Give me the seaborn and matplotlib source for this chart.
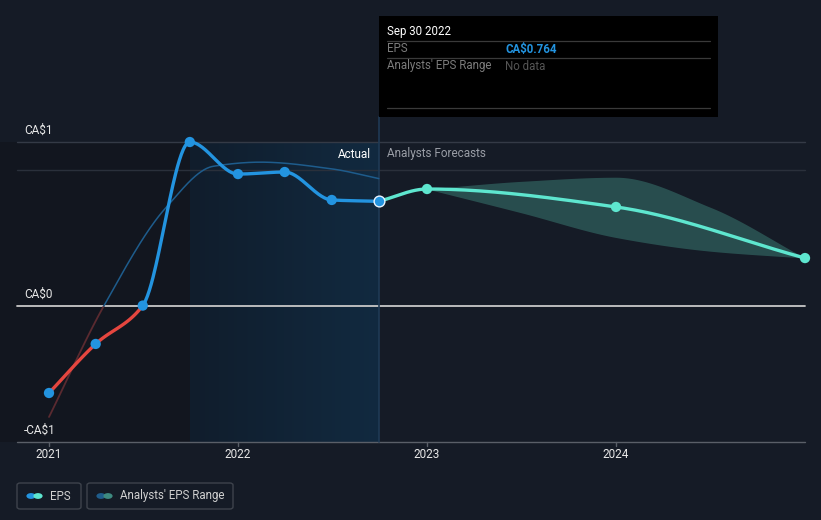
import numpy as np
import pandas as pd
import matplotlib
matplotlib.use("Agg")
import matplotlib.pyplot as plt
import seaborn as sns
from matplotlib.patches import FancyBboxPatch, Rectangle, Circle
from matplotlib.colors import LinearSegmentedColormap

sns.set_theme(style="dark")
plt.rcParams["font.family"] = ["Roboto", "DejaVu Sans"]

# ---------------- data ----------------
eps_dates = [2021.0, 2021.247, 2021.496, 2021.745, 2022.0, 2022.247, 2022.496, 2022.745]
eps_values = [-0.635, -0.277, 0.003, 1.197, 0.963, 0.978, 0.774, 0.764]

fc_dates = [2022.745, 2023.0, 2024.0, 2025.0]
fc_values = [0.764, 0.854, 0.723, 0.350]

range_dates = [2023.0, 2023.5, 2024.0, 2024.5, 2025.0]
range_low = [0.854, 0.68, 0.50, 0.40, 0.350]
range_high = [0.854, 0.91, 0.94, 0.72, 0.350]

thin_dates = [2021.0, 2021.29, 2021.62, 2021.87, 2022.12, 2022.50, 2022.745]
thin_values = [-0.81, 0.0, 0.72, 1.02, 1.05, 1.00, 0.93]

year_ticks = [2021, 2022, 2023, 2024]
y_labels = ["CA$1", "CA$0", "-CA$1"]

actual_start = 2021.745
actual_end = 2022.745


def smooth(xs, ys, n=50):
    """Monotone cubic (Fritsch-Carlson) curve through the given points."""
    xs = np.asarray(xs, float)
    ys = np.asarray(ys, float)
    k = len(xs)
    h = np.diff(xs)
    d = np.diff(ys) / h
    m = np.zeros(k)
    m[0], m[-1] = d[0], d[-1]
    for i in range(1, k - 1):
        if d[i - 1] * d[i] <= 0:
            m[i] = 0.0
        else:
            w1 = 2 * h[i] + h[i - 1]
            w2 = h[i] + 2 * h[i - 1]
            m[i] = (w1 + w2) / (w1 / d[i - 1] + w2 / d[i])
    ox, oy = [], []
    for i in range(k - 1):
        t = np.linspace(0, 1, n, endpoint=(i == k - 2))
        h00 = 2 * t**3 - 3 * t**2 + 1
        h10 = t**3 - 2 * t**2 + t
        h01 = -2 * t**3 + 3 * t**2
        h11 = t**3 - t**2
        ox.append(xs[i] + t * h[i])
        oy.append(h00 * ys[i] + h10 * h[i] * m[i] + h01 * ys[i + 1] + h11 * h[i] * m[i + 1])
    return np.concatenate(ox), np.concatenate(oy)


# ---------------- figure ----------------
W, H = 821, 520
fig = plt.figure(figsize=(W / 100, H / 100), dpi=100)
bg = "#151b26"
fig.patch.set_facecolor(bg)
ax = fig.add_axes([0, 0, 1, 1])
ax.set_facecolor(bg)

PX_YEAR = 189.0
X0PX = 49.0
PX_UNIT = 137.0
Y0PX = 306.0


def xpx(px):
    return 2021 + (px - X0PX) / PX_YEAR


def ypx(py):
    return (Y0PX - py) / PX_UNIT


# shaded background regions
ax.add_patch(Rectangle((xpx(0), ypx(442)), actual_start - xpx(0), ypx(142) - ypx(442),
                       facecolor="#12161f", edgecolor="none", zorder=0))
grad = np.linspace(0, 1, 256).reshape(1, -1)
cmap = LinearSegmentedColormap.from_list("g", ["#101d2c", "#122a40"])
ax.imshow(grad, cmap=cmap, aspect="auto",
          extent=[actual_start, actual_end, ypx(442), ypx(142)], zorder=0.5)
ax.set_xlim(xpx(0), xpx(W))
ax.set_ylim(ypx(H), ypx(0))
ax.axis("off")

# gridlines
xl, xr = xpx(17), xpx(805)
ax.plot([xl, xr], [ypx(142)] * 2, color="#343a46", lw=1, zorder=1)
ax.plot([xl, xr], [ypx(170)] * 2, color="#2a303b", lw=1, zorder=1)
ax.plot([xl, xr], [0, 0], color="#c8c8c8", lw=1.3, zorder=1)
ax.plot([xl, xr], [ypx(442)] * 2, color="#5a5f68", lw=1, zorder=1)
for yr in year_ticks:
    ax.plot([yr, yr], [ypx(442), ypx(446)], color="#5a5f68", lw=1, zorder=1)
    ax.text(yr, ypx(455), str(yr), color="#e8e8e8", fontsize=8.5,
            ha="center", va="center")

# y labels
for lab, py in zip(y_labels, [130, 294, 430]):
    ax.text(xpx(24), ypx(py), lab, color="#e8e8e8", fontsize=8.5, ha="left", va="center")

# vertical divider at actual end
ax.plot([actual_end, actual_end], [ypx(442), ypx(117)], color="#1f3a55", lw=1.2, zorder=1)

# analyst range band
rx, rl = smooth(range_dates, range_low)
_, rh = smooth(range_dates, range_high)
ax.fill_between(rx, rl, rh, color="#2f5f5c", alpha=0.75, lw=0, zorder=2)

# thin secondary line
tx, ty = smooth(thin_dates, thin_values)
iz = int(np.argmax(ty >= 0))
ax.plot(tx[: iz + 1], ty[: iz + 1], color="#5a2a30", lw=1.3, zorder=2)
ax.plot(tx[iz:], ty[iz:], color="#1e5c8c", lw=1.1, zorder=2)

# main EPS line
ex, ey = smooth(eps_dates, eps_values)
df_eps = pd.DataFrame({"x": ex, "y": ey})
idx_zero = int(np.argmax(ey >= 0))
sns.lineplot(data=df_eps.iloc[: idx_zero + 1], x="x", y="y", color="#e5463f", lw=2.4,
             ax=ax, zorder=4, sort=False)
sns.lineplot(data=df_eps.iloc[idx_zero:], x="x", y="y", color="#2394e0", lw=2.4,
             ax=ax, zorder=4, sort=False)

fx, fy = smooth(fc_dates, fc_values)
sns.lineplot(x=fx, y=fy, color="#5ee6cf", lw=2.4, ax=ax, zorder=4, sort=False)

sns.scatterplot(x=eps_dates[:-1], y=eps_values[:-1], color="#2394e0", s=55,
                edgecolor="none", ax=ax, zorder=5)
sns.scatterplot(x=fc_dates[1:], y=fc_values[1:], color="#5ee6cf", s=55,
                edgecolor="none", ax=ax, zorder=5)
sns.scatterplot(x=[eps_dates[-1]], y=[eps_values[-1]], color="#2394e0", s=60,
                edgecolor="#e8f4ff", linewidth=1.0, ax=ax, zorder=6)

# Actual / Analysts Forecasts
ax.text(xpx(371), ypx(154), "Actual", color="#ffffff", fontsize=8.5, ha="right", va="center")
ax.text(xpx(387), ypx(154), "Analysts Forecasts", color="#9a9ea6", fontsize=8.5,
        ha="left", va="center")

# tooltip
ft = fig.transFigure


def fx_(px):
    return px / W


def fy_(py):
    return 1 - py / H


fig.patches.append(Rectangle((fx_(379), fy_(117)), (718 - 379) / W, (117 - 16) / H,
                             transform=ft, facecolor="#000000", edgecolor="none", zorder=10))
for py in [41, 58, 108]:
    fig.lines.append(plt.Line2D([fx_(387), fx_(710)], [fy_(py)] * 2, transform=ft,
                                color="#3a3a3a", lw=0.9, zorder=11))
fig.text(fx_(387), fy_(31), "Sep 30 2022", color="#ffffff", fontsize=8.3, va="center",
         ha="left", zorder=12)
fig.text(fx_(387), fy_(49), "EPS", color="#7c7c7c", fontsize=8.3, va="center", zorder=12)
fig.text(fx_(505), fy_(49), "CA$0.764", color="#2394e0", fontsize=8.3, va="center",
         fontweight="bold", zorder=12)
fig.text(fx_(387), fy_(66), "Analysts' EPS Range", color="#7c7c7c", fontsize=8.3,
         va="center", zorder=12)
fig.text(fx_(505), fy_(66), "No data", color="#555555", fontsize=8.3, va="center", zorder=12)


# legend
def legend_box(x0, x1, c1, c2, label):
    fig.patches.append(FancyBboxPatch((fx_(x0), fy_(509)), (x1 - x0) / W, 26 / H,
                                      boxstyle="round,pad=0,rounding_size=0.004",
                                      transform=ft, facecolor="none",
                                      edgecolor="#3e434c", lw=1.0))
    fig.patches.append(Circle((fx_(x0 + 14), fy_(496)), 4.6 / W, transform=ft,
                              facecolor=c1, edgecolor="none"))
    fig.patches.append(Circle((fx_(x0 + 21), fy_(496)), 4.6 / W, transform=ft,
                              facecolor=c2, edgecolor="none"))
    fig.text(fx_(x0 + 33), fy_(496), label, color="#d0d0d0", fontsize=8.3,
             va="center", ha="left")


legend_box(17, 81, "#2394e0", "#5ee6cf", "EPS")
legend_box(87, 233, "#1f5d8c", "#3e8a80", "Analysts' EPS Range")

fig.savefig("out.png", dpi=100, facecolor=bg)
